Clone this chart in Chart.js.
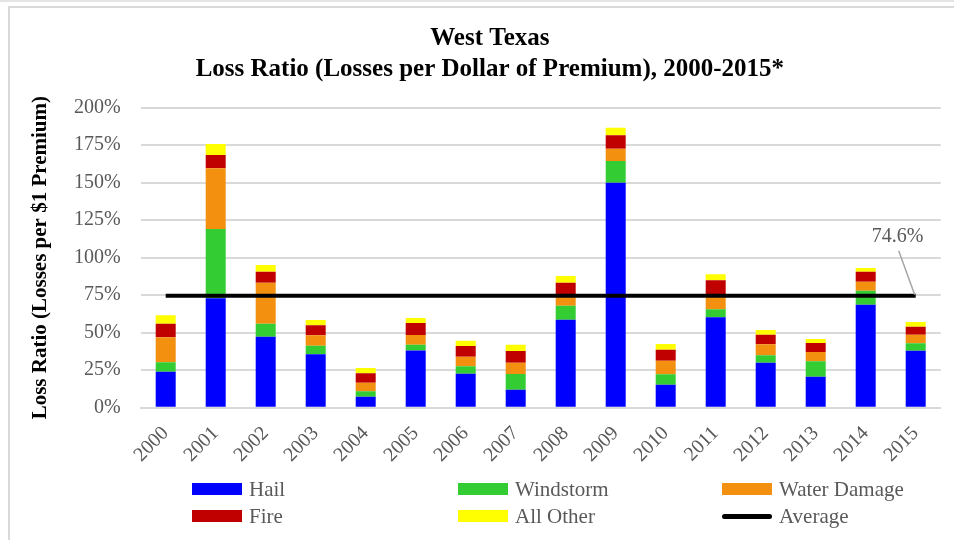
<!DOCTYPE html>
<html>
<head>
<meta charset="utf-8">
<script src="https://cdn.jsdelivr.net/npm/chart.js@4.4.1/dist/chart.umd.min.js"></script>
<style>
  body { margin: 0; background: #fff; }
  #wrap { position: relative; width: 954px; height: 540px; overflow: hidden; }
  #topline { position: absolute; left: 0; top: 0; width: 954px; height: 2px; background: #e4e4e4; }
  #frame { position: absolute; left: 8px; top: 6px; width: 960px; height: 560px;
           border-left: 2px solid #d9d9d9; border-top: 2px solid #d9d9d9; }
  canvas { position: absolute; left: 0; top: 0; }
  .leg { position: absolute; font: 21px "Liberation Serif", serif; color: #595959;
         line-height: 22px; white-space: nowrap; }
  .leg span { position: absolute; left: 0; top: 5px; width: 50px; height: 12px; }
  .leg span.line { top: 9px; height: 5px; border-radius: 3px; }
  .leg b { font-weight: normal; position: absolute; left: 57px; top: 0; }
</style>
</head>
<body>
<div id="wrap">
  <div id="topline"></div>
  <div id="frame"></div>
  <canvas id="lossChart" width="954" height="540"></canvas>
  <div id="legend"></div>
</div>
<script>
// ========= DATA =================== //
let years = ["2000", "2001", "2002", "2003", "2004", "2005", "2006", "2007",
  "2008", "2009", "2010", "2011", "2012", "2013", "2014", "2015"];

let hail = [24.0, 72.9, 47.3, 35.6, 7.3, 38.2, 22.7, 12.0, 58.7, 150.0, 15.3, 60.3, 30.0, 20.7, 68.7, 38.0];
let windstorm = [6.3, 46.2, 8.7, 5.7, 3.6, 3.8, 4.9, 10.5, 9.3, 14.5, 7.0, 5.3, 4.9, 10.2, 9.3, 4.9];
let waterDamage = [16.6, 40.5, 27.3, 7.0, 5.8, 6.5, 6.4, 7.5, 7.1, 8.2, 9.0, 9.4, 7.4, 6.2, 6.0, 5.8];
let fire = [9.1, 8.9, 7.4, 6.6, 6.2, 8.0, 7.1, 7.8, 8.2, 8.9, 7.4, 10.0, 6.4, 6.0, 6.7, 5.3];
let allOther = [5.6, 7.3, 4.4, 3.6, 3.6, 3.3, 3.6, 4.2, 4.5, 5.1, 3.8, 4.0, 3.1, 2.7, 2.4, 3.1];
let average = [74.6, 74.6, 74.6, 74.6, 74.6, 74.6, 74.6, 74.6,
  74.6, 74.6, 74.6, 74.6, 74.6, 74.6, 74.6, 74.6];

let textGrey = "#595959";
let serif = "'Liberation Serif', 'Times New Roman', serif";

function barSet(label, data, color) {
  return {
    type: "bar",
    label: label,
    data: data,
    backgroundColor: color,
    borderWidth: 0,
    stack: "losses",
    order: 1,
    categoryPercentage: 0.8,
    barPercentage: 0.5,
  };
}

let datasets = [
  barSet("Hail", hail, "#0000ff"),
  barSet("Windstorm", windstorm, "#33cc33"),
  barSet("Water Damage", waterDamage, "#f39010"),
  barSet("Fire", fire, "#c00000"),
  barSet("All Other", allOther, "#ffff00"),
  {
    type: "line",
    label: "Average",
    data: average,
    borderColor: "#000000",
    borderWidth: 4,
    pointRadius: 0,
    stack: "avg",
    order: 0,
  },
];

// ============ AVERAGE LABEL ===========================//
let avgLabel = {
  id: "avgLabel",
  afterDatasetsDraw(chart) {
    let meta = chart.getDatasetMeta(5);
    let pt = meta.data[meta.data.length - 1];
    let ctx = chart.ctx;
    ctx.save();
    ctx.strokeStyle = "#a6a6a6";
    ctx.lineWidth = 1.5;
    ctx.beginPath();
    ctx.moveTo(pt.x - 1, pt.y - 1);
    ctx.lineTo(pt.x - 17, pt.y - 45);
    ctx.stroke();
    ctx.fillStyle = textGrey;
    ctx.font = "20px " + serif;
    ctx.textAlign = "center";
    ctx.textBaseline = "middle";
    ctx.fillText(average[average.length - 1].toFixed(1) + "%", pt.x - 18, pt.y - 59);
    ctx.restore();
  },
};

// ================= CHART ========================//
let lossChart = new Chart(document.getElementById("lossChart").getContext("2d"), {
  data: { labels: years, datasets: datasets },
  options: {
    responsive: false,
    animation: false,
    devicePixelRatio: 1,
    layout: { padding: { left: 39, right: 13.3, top: 22.3, bottom: 72.3 } },
    plugins: {
      legend: { display: false },
      tooltip: { enabled: false },
      title: {
        display: true,
        text: ["West Texas", "Loss Ratio (Losses per Dollar of Premium), 2000-2015*"],
        color: "#000",
        font: { family: serif, size: 25, weight: "bold", lineHeight: 1.26 },
        padding: { top: 0, bottom: 22.4 },
      },
    },
    scales: {
      x: {
        stacked: true,
        grid: { display: false },
        border: { display: true, color: "#d9d9d9", width: 2 },
        ticks: {
          color: textGrey,
          font: { family: serif, size: 20 },
          minRotation: 45,
          maxRotation: 45,
          padding: 6,
        },
        afterFit(scale) { scale.height = 60; },
      },
      y: {
        stacked: true,
        min: 0,
        max: 200,
        grid: { color: "#d9d9d9", lineWidth: 2, drawTicks: false },
        border: { display: false },
        ticks: {
          stepSize: 25,
          color: textGrey,
          font: { family: serif, size: 20 },
          padding: 20,
          callback: (v) => v + "%",
        },
        title: {
          display: true,
          text: "Loss Ratio (Losses per $1 Premium)",
          color: "#000",
          font: { family: serif, size: 21, weight: "bold" },
          padding: { top: -10.6, bottom: 0 },
        },
        afterFit(scale) { scale.width = 101.7; },
      },
    },
  },
  plugins: [avgLabel],
});

// ================= LEGEND ========================//
let legendPos = [[192, 478], [458, 478], [722, 478], [192, 505], [458, 505], [722, 505]];
let legendHtml = "";
datasets.forEach((ds, k) => {
  let isLine = ds.type === "line";
  let color = isLine ? ds.borderColor : ds.backgroundColor;
  legendHtml += '<div class="leg" style="left:' + legendPos[k][0] + 'px;top:' + legendPos[k][1] + 'px">' +
    '<span class="' + (isLine ? "line" : "") + '" style="background:' + color + '"></span>' +
    "<b>" + ds.label + "</b></div>";
});
document.getElementById("legend").innerHTML = legendHtml;
</script>
</body>
</html>
